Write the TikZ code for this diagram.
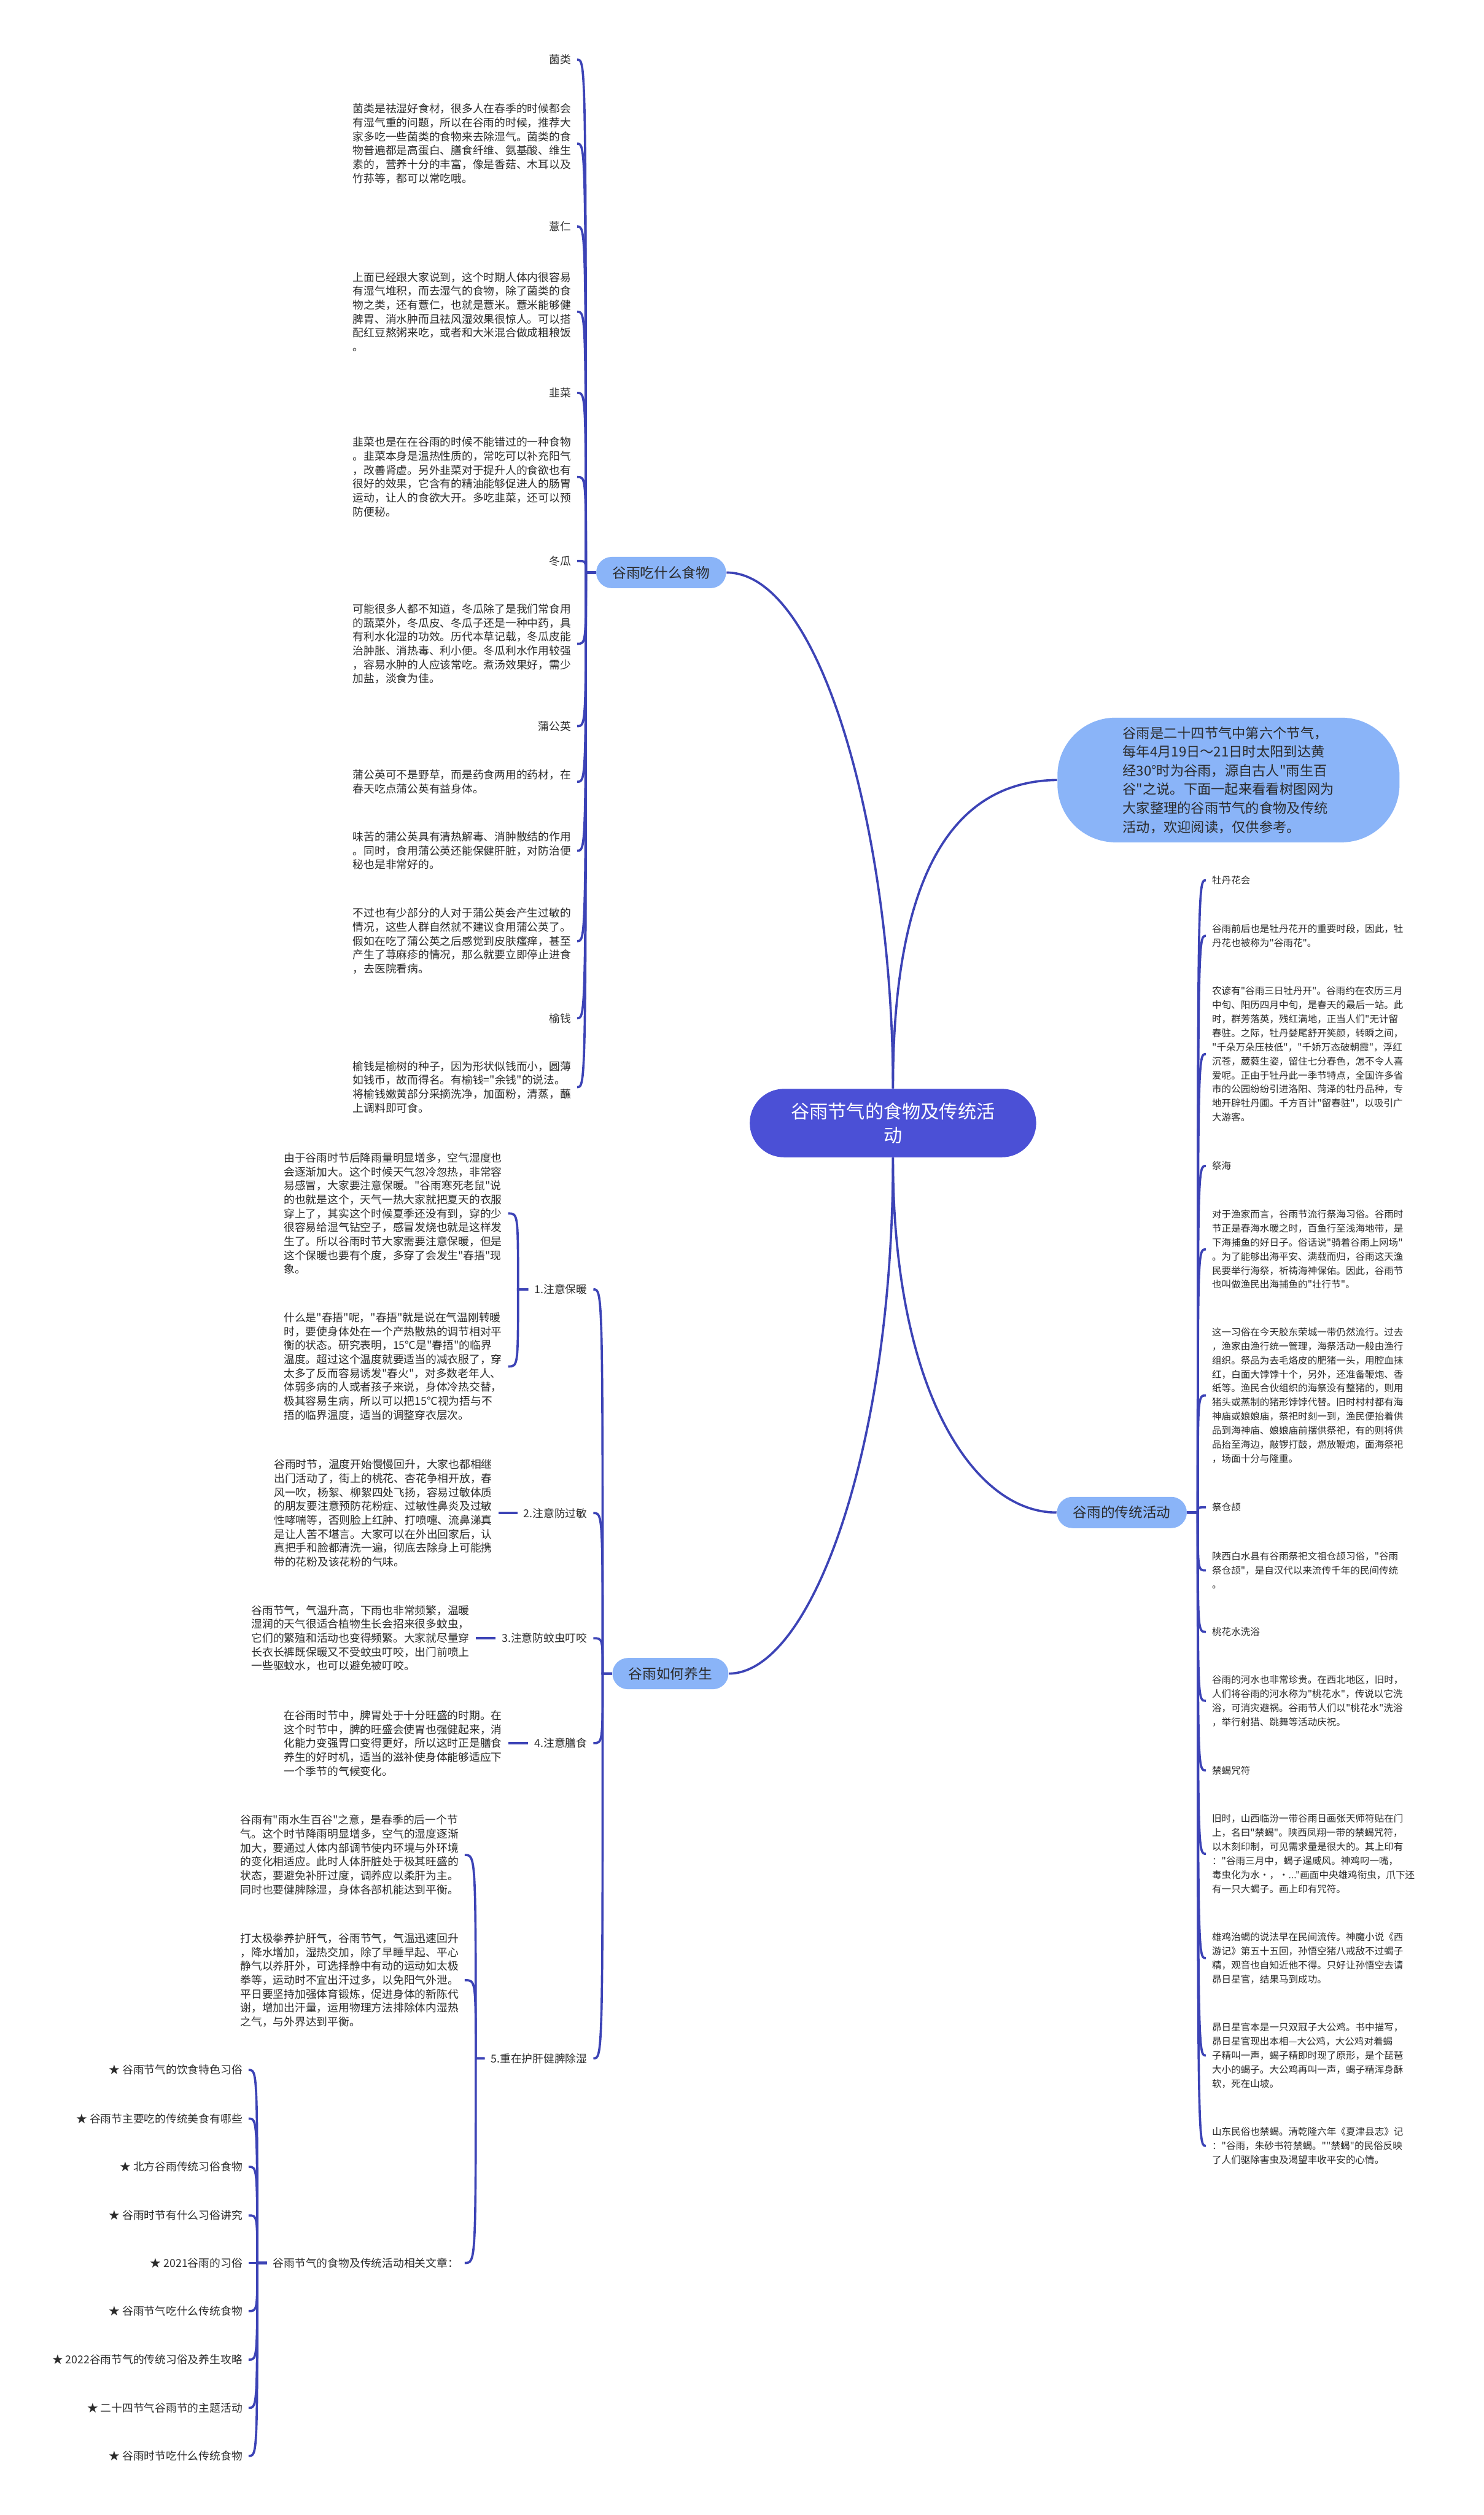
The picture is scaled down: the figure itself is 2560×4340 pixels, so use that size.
\documentclass[tikz,border=0pt]{standalone}
\usepackage{fontspec}
\newfontfamily\zhfont{Noto Sans CJK SC}
\definecolor{rootblue}{HTML}{4B50D6}
\definecolor{pillblue}{HTML}{8AB4F8}
\definecolor{linkblue}{HTML}{3C43B6}
\definecolor{inkgray}{HTML}{2B2B2B}
\begin{document}
\begin{tikzpicture}[x=0.01cm,y=-0.01cm,
  link/.style={draw=linkblue,line width=1.1pt},
  lt/.style={font=\zhfont\fontsize{5.35}{6.83}\selectfont,text=inkgray,align=left,inner xsep=0.1cm,inner ysep=0.02cm,anchor=east},
  rt/.style={font=\zhfont\fontsize{4.69}{6.89}\selectfont,text=inkgray,align=left,inner xsep=0.1cm,inner ysep=0.02cm,anchor=west},
  pill/.style={fill=pillblue,rounded corners=0.27cm,minimum height=0.54cm,inner xsep=0.28cm,font=\zhfont\fontsize{6.83}{8}\selectfont,text=inkgray}]
\fill[white] (0,0) rectangle (2560,4340);

\node[fill=rootblue,text=white,rounded corners=0.59cm,minimum width=4.94cm,minimum height=1.18cm,align=center,
  font=\zhfont\fontsize{9.1}{11.7}\selectfont] (root) at (1541,1938) {谷雨节气的食物及传统活\\动};
\node[fill=pillblue,rounded corners=1cm,minimum width=5.9cm,minimum height=2.15cm,align=left,text=inkgray,
  font=\zhfont\fontsize{6.71}{9.22}\selectfont] (intro) at (2120,1346) {谷雨是二十四节气中第六个节气，\\每年4月19日～21日时太阳到达黄\\经30°时为谷雨，源自古人"雨生百\\谷"之说。下面一起来看看树图网为\\大家整理的谷雨节气的食物及传统\\活动，欢迎阅读，仅供参考。};
\node[pill] (food) at (1141,988) {谷雨吃什么食物};
\node[pill] (yang) at (1157,2888) {谷雨如何养生};
\node[pill] (trad) at (1936,2610) {谷雨的传统活动};

\draw[link] (root.north) .. controls (1541,1450) and (1420,988) .. (food.east);
\draw[link] (root.north) .. controls (1541,1500) and (1650,1348) .. (intro.west);
\draw[link] (root.south) .. controls (1541,2500) and (1400,2888) .. (yang.east);
\draw[link] (root.south) .. controls (1541,2400) and (1680,2610) .. (trad.west);

\node[lt] (f1) at (996,103) {菌类};
\node[lt] (f2) at (996,248) {菌类是祛湿好食材，很多人在春季的时候都会\\有湿气重的问题，所以在谷雨的时候，推荐大\\家多吃一些菌类的食物来去除湿气。菌类的食\\物普遍都是高蛋白、膳食纤维、氨基酸、维生\\素的，营养十分的丰富，像是香菇、木耳以及\\竹荪等，都可以常吃哦。};
\node[lt] (f3) at (996,391) {薏仁};
\node[lt] (f4) at (996,538) {上面已经跟大家说到，这个时期人体内很容易\\有湿气堆积，而去湿气的食物，除了菌类的食\\物之类，还有薏仁，也就是薏米。薏米能够健\\脾胃、消水肿而且祛风湿效果很惊人。可以搭\\配红豆熬粥来吃，或者和大米混合做成粗粮饭\\。};
\node[lt] (f5) at (996,678) {韭菜};
\node[lt] (f6) at (996,823) {韭菜也是在在谷雨的时候不能错过的一种食物\\。韭菜本身是温热性质的，常吃可以补充阳气\\，改善肾虚。另外韭菜对于提升人的食欲也有\\很好的效果，它含有的精油能够促进人的肠胃\\运动，让人的食欲大开。多吃韭菜，还可以预\\防便秘。};
\node[lt] (f7) at (996,968) {冬瓜};
\node[lt] (f8) at (996,1111) {可能很多人都不知道，冬瓜除了是我们常食用\\的蔬菜外，冬瓜皮、冬瓜子还是一种中药，具\\有利水化湿的功效。历代本草记载，冬瓜皮能\\治肿胀、消热毒、利小便。冬瓜利水作用较强\\，容易水肿的人应该常吃。煮汤效果好，需少\\加盐，淡食为佳。};
\node[lt] (f9) at (996,1253) {蒲公英};
\node[lt] (f10) at (996,1349) {蒲公英可不是野草，而是药食两用的药材，在\\春天吃点蒲公英有益身体。};
\node[lt] (f11) at (996,1468) {味苦的蒲公英具有清热解毒、消肿散结的作用\\。同时，食用蒲公英还能保健肝脏，对防治便\\秘也是非常好的。};
\node[lt] (f12) at (996,1624) {不过也有少部分的人对于蒲公英会产生过敏的\\情况，这些人群自然就不建议食用蒲公英了。\\假如在吃了蒲公英之后感觉到皮肤瘙痒，甚至\\产生了荨麻疹的情况，那么就要立即停止进食\\，去医院看病。};
\node[lt] (f13) at (996,1757) {榆钱};
\node[lt] (f14) at (996,1876) {榆钱是榆树的种子，因为形状似钱而小，圆薄\\如钱币，故而得名。有榆钱="余钱"的说法。\\将榆钱嫩黄部分采摘洗净，加面粉，清蒸，蘸\\上调料即可食。};
\coordinate (fs) at (1011,0);
\foreach \i in {1,...,14}
  \draw[link] (food.west) -- (food.west -| fs) .. controls (fs |- f\i.east) .. (f\i.east);

\node[lt] (y1) at (1024,2225) {1.注意保暖};
\node[lt] (y2) at (1024,2611) {2.注意防过敏};
\node[lt] (y3) at (1024,2827) {3.注意防蚊虫叮咬};
\node[lt] (y4) at (1024,3008) {4.注意膳食};
\node[lt] (y5) at (1024,3552) {5.重在护肝健脾除湿};
\coordinate (ys) at (1040,0);
\foreach \i in {1,...,5}
  \draw[link] (yang.west) -- (yang.west -| ys) .. controls (ys |- y\i.east) .. (y\i.east);

\node[lt] (y1a) at (877,2094) {由于谷雨时节后降雨量明显增多，空气湿度也\\会逐渐加大。这个时候天气忽冷忽热，非常容\\易感冒，大家要注意保暖。"谷雨寒死老鼠"说\\的也就是这个，天气一热大家就把夏天的衣服\\穿上了，其实这个时候夏季还没有到，穿的少\\很容易给湿气钻空子，感冒发烧也就是这样发\\生了。所以谷雨时节大家需要注意保暖，但是\\这个保暖也要有个度，多穿了会发生"春捂"现\\象。};
\node[lt] (y1b) at (877,2358) {什么是"春捂"呢，"春捂"就是说在气温刚转暖\\时，要使身体处在一个产热散热的调节相对平\\衡的状态。研究表明，15℃是"春捂"的临界\\温度。超过这个温度就要适当的减衣服了，穿\\太多了反而容易诱发"春火"，对多数老年人、\\体弱多病的人或者孩子来说，身体冷热交替，\\极其容易生病，所以可以把15℃视为捂与不\\捂的临界温度，适当的调整穿衣层次。};
\coordinate (y1s) at (894,0);
\foreach \c in {y1a,y1b}
  \draw[link] (y1.west) -- (y1.west -| y1s) .. controls (y1s |- \c.east) .. (\c.east);

\node[lt] (y2a) at (860,2611) {谷雨时节，温度开始慢慢回升，大家也都相继\\出门活动了，街上的桃花、杏花争相开放，春\\风一吹，杨絮、柳絮四处飞扬，容易过敏体质\\的朋友要注意预防花粉症、过敏性鼻炎及过敏\\性哮喘等，否则脸上红肿、打喷嚏、流鼻涕真\\是让人苦不堪言。大家可以在外出回家后，认\\真把手和脸都清洗一遍，彻底去除身上可能携\\带的花粉及该花粉的气味。};
\draw[link] (y2.west) -- (y2a.east);
\node[lt] (y3a) at (821,2827) {谷雨节气，气温升高，下雨也非常频繁，温暖\\湿润的天气很适合植物生长会招来很多蚊虫，\\它们的繁殖和活动也变得频繁。大家就尽量穿\\长衣长裤既保暖又不受蚊虫叮咬，出门前喷上\\一些驱蚊水，也可以避免被叮咬。};
\draw[link] (y3.west) -- (y3a.east);
\node[lt] (y4a) at (877,3008) {在谷雨时节中，脾胃处于十分旺盛的时期。在\\这个时节中，脾的旺盛会使胃也强健起来，消\\化能力变强胃口变得更好，所以这时正是膳食\\养生的好时机，适当的滋补使身体能够适应下\\一个季节的气候变化。};
\draw[link] (y4.west) -- (y4a.east);

\node[lt] (y5a) at (802,3201) {谷雨有"雨水生百谷"之意，是春季的后一个节\\气。这个时节降雨明显增多，空气的湿度逐渐\\加大，要通过人体内部调节使内环境与外环境\\的变化相适应。此时人体肝脏处于极其旺盛的\\状态，要避免补肝过度，调养应以柔肝为主。\\同时也要健脾除湿，身体各部机能达到平衡。};
\node[lt] (y5b) at (802,3417) {打太极拳养护肝气，谷雨节气，气温迅速回升\\，降水增加，湿热交加，除了早睡早起、平心\\静气以养肝外，可选择静中有动的运动如太极\\拳等，运动时不宜出汗过多，以免阳气外泄。\\平日要坚持加强体育锻炼，促进身体的新陈代\\谢，增加出汗量，运用物理方法排除体内湿热\\之气，与外界达到平衡。};
\node[lt] (rel) at (802,3905) {谷雨节气的食物及传统活动相关文章：};
\coordinate (y5s) at (821,0);
\foreach \c in {y5a,y5b,rel}
  \draw[link] (y5.west) -- (y5.west -| y5s) .. controls (y5s |- \c.east) .. (\c.east);

\node[lt] (s1) at (429,3572) {★ 谷雨节气的饮食特色习俗};
\node[lt] (s2) at (429,3656) {★ 谷雨节主要吃的传统美食有哪些};
\node[lt] (s3) at (429,3739) {★ 北方谷雨传统习俗食物};
\node[lt] (s4) at (429,3823) {★ 谷雨时节有什么习俗讲究};
\node[lt] (s5) at (429,3905) {★ 2021谷雨的习俗};
\node[lt] (s6) at (429,3988) {★ 谷雨节气吃什么传统食物};
\node[lt] (s7) at (429,4072) {★ 2022谷雨节气的传统习俗及养生攻略};
\node[lt] (s8) at (429,4155) {★ 二十四节气谷雨节的主题活动};
\node[lt] (s9) at (429,4238) {★ 谷雨时节吃什么传统食物};
\coordinate (rs) at (444,0);
\foreach \i in {1,...,9}
  \draw[link] (rel.west) -- (rel.west -| rs) .. controls (rs |- s\i.east) .. (s\i.east);

\node[rt] (t1) at (2081,1519) {牡丹花会};
\node[rt] (t2) at (2081,1615) {谷雨前后也是牡丹花开的重要时段，因此，牡\\丹花也被称为"谷雨花"。};
\node[rt] (t3) at (2081,1819) {农谚有"谷雨三日牡丹开"。谷雨约在农历三月\\中旬、阳历四月中旬，是春天的最后一站。此\\时，群芳落英，残红满地，正当人们"无计留\\春驻。之际，牡丹婪尾舒开笑颜，转瞬之间，\\"千朵万朵压枝低"，"千娇万态破朝霞"，浮红\\沉苍，葳蕤生姿，留住七分春色，怎不令人喜\\爱呢。正由于牡丹此一季节特点，全国许多省\\市的公园纷纷引进洛阳、菏泽的牡丹品种，专\\地开辟牡丹圃。千方百计"留春驻"，以吸引广\\大游客。};
\node[rt] (t4) at (2081,2012) {祭海};
\node[rt] (t5) at (2081,2156) {对于渔家而言，谷雨节流行祭海习俗。谷雨时\\节正是春海水暖之时，百鱼行至浅海地带，是\\下海捕鱼的好日子。俗话说"骑着谷雨上网场"\\。为了能够出海平安、满载而归，谷雨这天渔\\民要举行海祭，祈祷海神保佑。因此，谷雨节\\也叫做渔民出海捕鱼的"壮行节"。};
\node[rt] (t6) at (2081,2408) {这一习俗在今天胶东荣城一带仍然流行。过去\\，渔家由渔行统一管理，海祭活动一般由渔行\\组织。祭品为去毛烙皮的肥猪一头，用腔血抹\\红，白面大饽饽十个，另外，还准备鞭炮、香\\纸等。渔民合伙组织的海祭没有整猪的，则用\\猪头或蒸制的猪形饽饽代替。旧时村村都有海\\神庙或娘娘庙，祭祀时刻一到，渔民便抬着供\\品到海神庙、娘娘庙前摆供祭祀，有的则将供\\品抬至海边，敲锣打鼓，燃放鞭炮，面海祭祀\\，场面十分与隆重。};
\node[rt] (t7) at (2081,2601) {祭仓颉};
\node[rt] (t8) at (2081,2710) {陕西白水县有谷雨祭祀文祖仓颉习俗，"谷雨\\祭仓颉"，是自汉代以来流传千年的民间传统\\。};
\node[rt] (t9) at (2081,2816) {桃花水洗浴};
\node[rt] (t10) at (2081,2935) {谷雨的河水也非常珍贵。在西北地区，旧时，\\人们将谷雨的河水称为"桃花水"，传说以它洗\\浴，可消灾避祸。谷雨节人们以"桃花水"洗浴\\，举行射猎、跳舞等活动庆祝。};
\node[rt] (t11) at (2081,3055) {禁蝎咒符};
\node[rt] (t12) at (2081,3199) {旧时，山西临汾一带谷雨日画张天师符贴在门\\上，名曰"禁蝎"。陕西凤翔一带的禁蝎咒符，\\以木刻印制，可见需求量是很大的。其上印有\\："谷雨三月中，蝎子逞威风。神鸡叼一嘴，\\毒虫化为水·，·..."画面中央雄鸡衔虫，爪下还\\有一只大蝎子。画上印有咒符。};
\node[rt] (t13) at (2081,3379) {雄鸡治蝎的说法早在民间流传。神魔小说《西\\游记》第五十五回，孙悟空猪八戒敌不过蝎子\\精，观音也自知近他不得。只好让孙悟空去请\\昴日星官，结果马到成功。};
\node[rt] (t14) at (2081,3547) {昴日星官本是一只双冠子大公鸡。书中描写，\\昴日星官现出本相—大公鸡，大公鸡对着蝎\\子精叫一声，蝎子精即时现了原形，是个琵琶\\大小的蝎子。大公鸡再叫一声，蝎子精浑身酥\\软，死在山坡。};
\node[rt] (t15) at (2081,3703) {山东民俗也禁蝎。清乾隆六年《夏津县志》记\\："谷雨，朱砂书符禁蝎。""禁蝎"的民俗反映\\了人们驱除害虫及渴望丰收平安的心情。};
\coordinate (ts) at (2067,0);
\foreach \i in {1,...,15}
  \draw[link] (trad.east) -- (trad.east -| ts) .. controls (ts |- t\i.west) .. (t\i.west);
\end{tikzpicture}
\end{document}
